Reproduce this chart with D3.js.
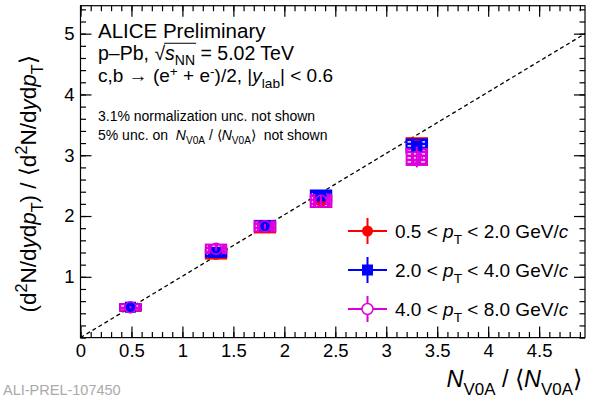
<!DOCTYPE html>
<html><head><meta charset="utf-8">
<script src="https://cdn.jsdelivr.net/npm/d3@7"></script>
<style>body{margin:0;background:#fff}svg{display:block}text{font-family:"Liberation Sans",Arial,sans-serif;white-space:pre}</style>
</head><body>
<svg id="c" width="594" height="401"></svg>
<script>
// ---- data ----
const xVals = [0.49, 1.33, 1.81, 2.36, 3.30];
const redY = [0.49, 1.37, 1.81, 2.24, 3.17];
const redStat = [0.01, 0.02, 0.02, 0.03, 0.05];
const redSys = [0.05, 0.07, 0.08, 0.09, 0.11];
const blueY = [0.50, 1.40, 1.84, 2.33, 3.15];
const blueStat = [0.01, 0.02, 0.02, 0.03, 0.05];
const blueSys = [0.05, 0.07, 0.08, 0.09, 0.11];
const magY = [0.50, 1.46, 1.83, 2.25, 2.97];
const magStat = [0.02, 0.03, 0.04, 0.10, 0.17];
const magSys = [0.05, 0.07, 0.08, 0.10, 0.13];
const xTicks = [0, 0.5, 1, 1.5, 2, 2.5, 3, 3.5, 4, 4.5];
const xTickLabels = ["0", "0.5", "1", "1.5", "2", "2.5", "3", "3.5", "4", "4.5"];
const yTicks = [1, 2, 3, 4, 5];
const yTickLabels = ["1", "2", "3", "4", "5"];
const refLine = [[0, 0], [4.95, 5.0]];
const seriesNames = ["0.5 < p_T < 2.0 GeV/c", "2.0 < p_T < 4.0 GeV/c", "4.0 < p_T < 8.0 GeV/c"];

const series = [
  {name: seriesNames[0], color: "#ff0000", y: redY, stat: redStat, sys: redSys, marker: "circle"},
  {name: seriesNames[1], color: "#0000ff", y: blueY, stat: blueStat, sys: blueSys, marker: "square"},
  {name: seriesNames[2], color: "#dd00dd", y: magY, stat: magStat, sys: magSys, marker: "opencircle"}
];

const svg = d3.select("#c");
const L = 80.5, R = 585, T = 5.7, B = 337.6;
const x = d3.scaleLinear().domain([0, 4.95]).range([L, R]);
const y = d3.scaleLinear().domain([0, 5.46]).range([B, T]);

// patterns
const defs = svg.append("defs");
series.forEach((s, i) => {
  const p = defs.append("pattern").attr("id", "pat" + i).attr("patternUnits", "userSpaceOnUse")
    .attr("width", 7).attr("height", 4);
  p.append("rect").attr("width", 7).attr("height", 4).attr("fill", s.color);
  p.append("rect").attr("x", 1).attr("y", 1.2).attr("width", 4).attr("height", 1.4).attr("fill", "#fff");
});

// frame
svg.append("rect").attr("x", L).attr("y", T).attr("width", R - L).attr("height", B - T)
  .attr("fill", "none").attr("stroke", "#000").attr("stroke-width", 1.2);

function styleAxis(g) {
  g.select(".domain").remove();
  g.selectAll("line").attr("stroke", "#000").attr("stroke-width", 1.2);
  g.selectAll("text").attr("font-family", "Liberation Sans, Arial, sans-serif").attr("font-size", 18.5).attr("fill", "#000");
}
const xMinor = d3.range(0, 4.95, 0.1);
const yMinor = d3.range(0, 5.46, 0.2);
// bottom
svg.append("g").attr("transform", `translate(0,${B})`)
  .call(d3.axisBottom(x).tickValues(xTicks).tickSizeInner(-11).tickSizeOuter(0).tickPadding(6)
    .tickFormat((d, i) => xTickLabels[i])).call(styleAxis);
svg.append("g").attr("transform", `translate(0,${B})`)
  .call(d3.axisBottom(x).tickValues(xMinor).tickSizeInner(-5.5).tickSizeOuter(0).tickFormat("")).call(styleAxis);
// top
svg.append("g").attr("transform", `translate(0,${T})`)
  .call(d3.axisTop(x).tickValues(xTicks).tickSizeInner(-11).tickSizeOuter(0).tickFormat("")).call(styleAxis);
svg.append("g").attr("transform", `translate(0,${T})`)
  .call(d3.axisTop(x).tickValues(xMinor).tickSizeInner(-5.5).tickSizeOuter(0).tickFormat("")).call(styleAxis);
// left
svg.append("g").attr("transform", `translate(${L},0)`)
  .call(d3.axisLeft(y).tickValues(yTicks).tickSizeInner(-11).tickSizeOuter(0).tickPadding(6)
    .tickFormat((d, i) => yTickLabels[i])).call(styleAxis);
svg.append("g").attr("transform", `translate(${L},0)`)
  .call(d3.axisLeft(y).tickValues(yMinor).tickSizeInner(-5.5).tickSizeOuter(0).tickFormat("")).call(styleAxis);
// right
svg.append("g").attr("transform", `translate(${R},0)`)
  .call(d3.axisRight(y).tickValues(yTicks).tickSizeInner(-11).tickSizeOuter(0).tickFormat("")).call(styleAxis);
svg.append("g").attr("transform", `translate(${R},0)`)
  .call(d3.axisRight(y).tickValues(yMinor).tickSizeInner(-5.5).tickSizeOuter(0).tickFormat("")).call(styleAxis);

// reference line
svg.append("path").datum(refLine)
  .attr("d", d3.line().x(d => x(d[0])).y(d => y(d[1])))
  .attr("stroke", "#000").attr("stroke-width", 1.3).attr("stroke-dasharray", "4,3").attr("fill", "none");

// systematic boxes
const bw = 0.1;
series.forEach((s, i) => {
  svg.append("g").selectAll("rect").data(xVals).join("rect")
    .attr("x", d => x(d - bw)).attr("width", d => x(d + bw) - x(d - bw))
    .attr("y", (d, j) => y(s.y[j] + s.sys[j])).attr("height", (d, j) => y(s.y[j] - s.sys[j]) - y(s.y[j] + s.sys[j]))
    .attr("fill", `url(#pat${i})`).attr("stroke", s.color).attr("stroke-width", 2);
});

function drawMarker(g, s, cx, cy) {
  if (s.marker === "circle") g.append("circle").attr("cx", cx).attr("cy", cy).attr("r", 5.5).attr("fill", s.color);
  else if (s.marker === "square") g.append("rect").attr("x", cx - 5.5).attr("y", cy - 5.5).attr("width", 11).attr("height", 11).attr("fill", s.color);
  else g.append("circle").attr("cx", cx).attr("cy", cy).attr("r", 5.5).attr("fill", "none").attr("stroke", s.color).attr("stroke-width", 1.5);
}
// stat errors + markers
series.forEach(s => {
  const g = svg.append("g");
  xVals.forEach((xv, j) => {
    g.append("line").attr("x1", x(xv)).attr("x2", x(xv))
      .attr("y1", y(s.y[j] + s.stat[j])).attr("y2", y(s.y[j] - s.stat[j]))
      .attr("stroke", s.color).attr("stroke-width", 2);
    drawMarker(g, s, x(xv), y(s.y[j]));
  });
});

// rich text helper
function rich(parent, segs, fs, subK = 0.32, supK = 0.42) {
  let shift = 0;
  const nodes = [];
  segs.forEach(sg => {
    const [txt, st] = sg;
    const ts = parent.append("tspan").text(txt);
    let target = 0, size = fs;
    if (st && st.includes("sub")) { target = subK * fs; size = fs * 0.72; }
    if (st && st.includes("sup")) { target = -supK * fs; size = fs * 0.72; }
    ts.attr("dy", target - shift); shift = target;
    ts.attr("font-size", size);
    if (st && st.includes("i")) ts.attr("font-style", "italic");
    nodes.push(ts.node());
  });
  return nodes;
}

// legend
const legY = [231, 270, 309];
series.forEach((s, i) => {
  const g = svg.append("g");
  const cx = 367.5, cy = legY[i];
  g.append("line").attr("x1", 348).attr("x2", 387).attr("y1", cy).attr("y2", cy).attr("stroke", s.color).attr("stroke-width", 2);
  g.append("line").attr("x1", cx).attr("x2", cx).attr("y1", cy - 13).attr("y2", cy + 13).attr("stroke", s.color).attr("stroke-width", 2);
  if (s.marker === "opencircle") g.append("circle").attr("cx", cx).attr("cy", cy).attr("r", 5.5).attr("fill", "#fff");
  drawMarker(g, s, cx, cy);
  const parts = s.name.split(/p_T|c$/);
  const tx = g.append("text").attr("x", 395).attr("y", cy + 6.5).attr("font-size", 19);
  rich(tx, [[parts[0]], ["p", "i"], ["T", "sub"], [parts[1]], ["c", "i"]], 19);
});

// annotation texts
const ax = 98, fsA = 19.5;
svg.append("text").attr("x", ax).attr("y", 38).attr("font-size", 20.5).text("ALICE Preliminary");
const sq = rich(svg.append("text").attr("x", ax).attr("y", 60).attr("font-size", fsA),
  [["p–Pb, √"], ["s", "i"], ["NN", "sub"], [" = 5.02 TeV"]], fsA, 0.26);
{
  const x0 = sq[1].getStartPositionOfChar(0).x;
  const x1 = sq[2].getEndPositionOfChar(1).x;
  svg.append("line").attr("x1", x0 - 1).attr("x2", x1 + 1).attr("y1", 60 - fsA * 0.86).attr("y2", 60 - fsA * 0.86)
    .attr("stroke", "#000").attr("stroke-width", 1.1);
}
rich(svg.append("text").attr("x", ax).attr("y", 82).attr("font-size", 19),
  [["c,b → (e"], ["+", "sup"], [" + e"], ["-", "sup"], [")/2, |"], ["y", "i"], ["lab", "sub"], ["| < 0.6"]], 19, 0.32, 0.32);
svg.append("text").attr("x", ax).attr("y", 120.5).attr("font-size", 14).text("3.1% normalization unc. not shown");
rich(svg.append("text").attr("x", ax).attr("y", 139.5).attr("font-size", 14),
  [["5% unc. on  "], ["N", "i"], ["V0A", "sub"], [" / ⟨"], ["N", "i"], ["V0A", "sub"], ["⟩  not shown"]], 14);

// axis titles
rich(svg.append("text").attr("text-anchor", "end").attr("x", 582).attr("y", 387).attr("font-size", 23.5),
  [["N", "i"], ["V0A", "sub"], [" / ⟨"], ["N", "i"], ["V0A", "sub"], ["⟩"]], 23.5);
rich(svg.append("text").attr("text-anchor", "middle").attr("transform", "translate(36,184) rotate(-90)").attr("font-size", 22.5),
  [["(d"], ["2", "sup"], ["N/d"], ["y", "i"], ["d"], ["p", "i"], ["T", "sub"], [") / ⟨d"], ["2", "sup"], ["N/d"], ["y", "i"], ["d"], ["p", "i"], ["T", "sub"], ["⟩"]], 22.5);

svg.append("text").attr("x", 3).attr("y", 395).attr("font-family", "Liberation Mono, monospace").attr("font-size", 14.5)
  .attr("fill", "#aaa").text("ALI-PREL-107450");
</script>
</body></html>
